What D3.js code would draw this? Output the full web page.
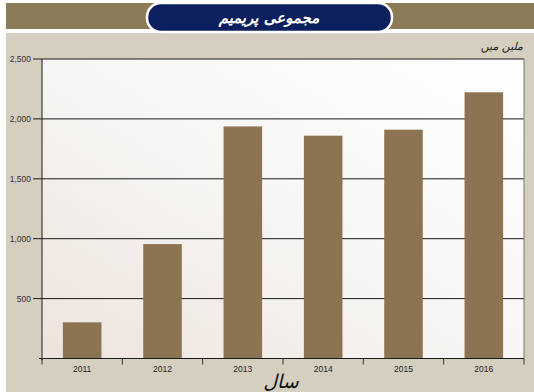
<!DOCTYPE html>
<html><head><meta charset="utf-8">
<script src="https://cdn.jsdelivr.net/npm/d3@7"></script>
<style>body{margin:0;background:#fff}svg{display:block}</style>
</head><body>
<script>
const years = ["2011","2012","2013","2014","2015","2016"];
const values = [302, 955, 1937, 1860, 1910, 2222];
const yTicks = [500, 1000, 1500, 2000, 2500];
const title = "مجموعی پریمیم";
const unitLabel = "ملین میں";
const xLabel = "سال";

const W = 534, H = 392;
const svg = d3.select("body").append("svg").attr("width", W).attr("height", H);
const defs = svg.append("defs");
const g1 = defs.append("linearGradient").attr("id","pbg").attr("x1","100%").attr("y1","0%").attr("x2","0%").attr("y2","100%");
g1.append("stop").attr("offset","0%").attr("stop-color","#ffffff");
g1.append("stop").attr("offset","50%").attr("stop-color","#f7f6f4");
g1.append("stop").attr("offset","100%").attr("stop-color","#ede3dc");

// backgrounds
svg.append("rect").attr("x",6).attr("y",33).attr("width",W-6).attr("height",H-33).attr("fill","#d5cfbf");
svg.append("rect").attr("x",6).attr("y",3).attr("width",W-6).attr("height",26).attr("fill","#8c7b58");
svg.append("rect").attr("x",147).attr("y",3).attr("width",245).attr("height",29).attr("rx",14).attr("fill","#0c1f5f").attr("stroke","#ffffff").attr("stroke-width",2.5);
svg.append("text").attr("x",269).attr("y",23).attr("text-anchor","middle").attr("fill","#fff")
  .attr("font-family","DejaVu Sans").attr("font-size",15).attr("font-style","italic").attr("font-weight","bold").attr("direction","rtl").text(title);
svg.append("text").attr("x",523).attr("y",50).attr("text-anchor","end").attr("fill","#222")
  .attr("font-family","DejaVu Sans").attr("font-size",11).attr("font-style","italic").text(unitLabel);

const m = {l:42, r:524, t:59, b:358.5};
const x = d3.scaleBand().domain(years).range([m.l, m.r]).paddingInner(0.52).paddingOuter(0.26);
const xb = d3.scaleBand().domain(years).range([m.l, m.r]);
const y = d3.scaleLinear().domain([0,2500]).range([m.b, m.t]);

svg.append("rect").attr("x",m.l).attr("y",m.t).attr("width",m.r-m.l).attr("height",m.b-m.t).attr("fill","url(#pbg)");

// gridlines
svg.append("g").selectAll("line").data(yTicks).join("line")
  .attr("x1",m.l-9).attr("x2",m.r).attr("y1",d=>y(d)).attr("y2",d=>y(d))
  .attr("stroke","#1a1a1a").attr("stroke-width",1);
svg.append("g").selectAll("text").data(yTicks).join("text")
  .attr("x",31).attr("y",d=>y(d)+3).attr("text-anchor","end")
  .attr("font-family","Liberation Sans, Arial").attr("font-size",8.5).attr("fill","#333")
  .text(d=>d3.format(",")(d));

// bars
svg.append("g").selectAll("rect").data(years).join("rect")
  .attr("x",d=>x(d)).attr("width",x.bandwidth())
  .attr("y",(d,i)=>y(values[i])).attr("height",(d,i)=>m.b-y(values[i]))
  .attr("fill","#8c7453");

// axes lines
svg.append("line").attr("x1",m.l).attr("x2",m.l).attr("y1",m.t).attr("y2",m.b+2).attr("stroke","#1a1a1a");
svg.append("line").attr("x1",m.r).attr("x2",m.r).attr("y1",m.t).attr("y2",m.b).attr("stroke","#777");
svg.append("line").attr("x1",m.l-3).attr("x2",m.r).attr("y1",m.b).attr("y2",m.b).attr("stroke","#1a1a1a").attr("stroke-width",1.2);
const bounds = years.map(d=>xb(d)).concat([m.r]);
svg.append("g").selectAll("line").data(bounds).join("line")
  .attr("x1",d=>d).attr("x2",d=>d).attr("y1",m.b).attr("y2",m.b+6).attr("stroke","#333");
svg.append("g").selectAll("text").data(years).join("text")
  .attr("x",d=>xb(d)+xb.bandwidth()/2).attr("y",372).attr("text-anchor","middle")
  .attr("font-family","Liberation Sans, Arial").attr("font-size",8.5).attr("fill","#222").text(d=>d);

svg.append("text").attr("x",281).attr("y",388).attr("text-anchor","middle").attr("fill","#111")
  .attr("font-family","DejaVu Sans").attr("font-size",19).attr("font-style","italic").text(xLabel);
</script>
</body></html>
